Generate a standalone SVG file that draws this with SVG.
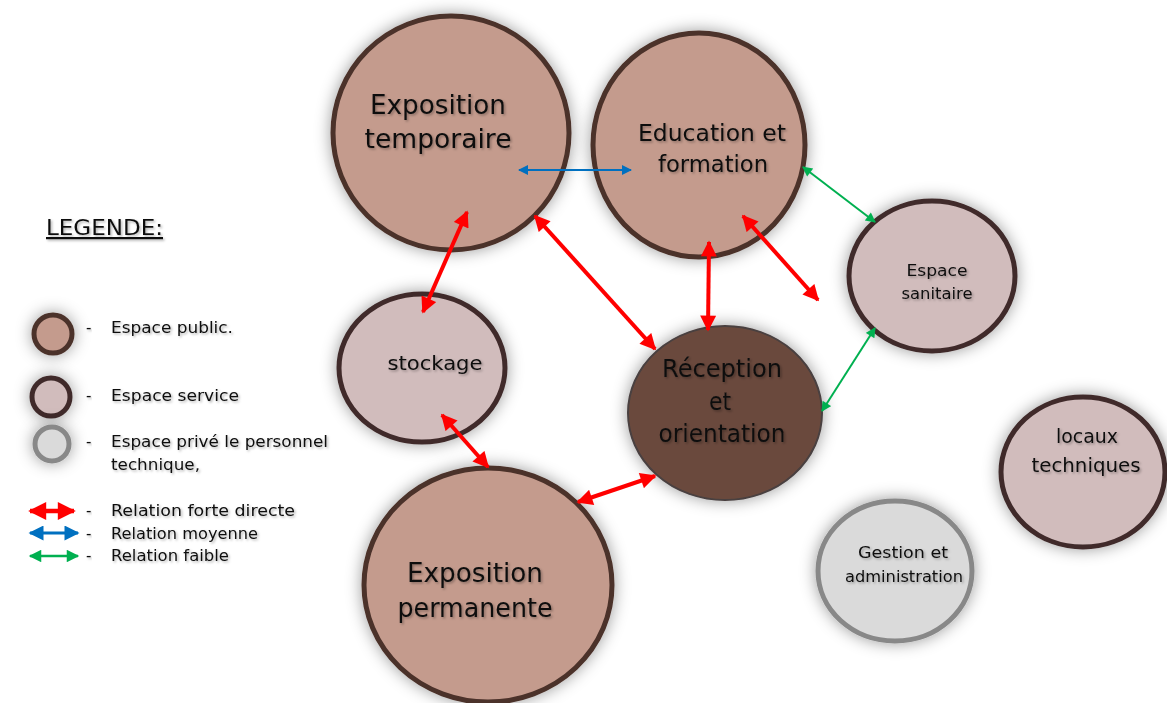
<svg xmlns="http://www.w3.org/2000/svg" width="1167" height="703" viewBox="0 0 1167 703">
<style>
.pub{fill:#c49b8d;stroke:#4b3129;stroke-width:5}
.srv{fill:#d1bcbc;stroke:#3f2a2a;stroke-width:5}
.rec{fill:#6b4a3d;stroke:#4a4040;stroke-width:2}
.prv{fill:#dadada;stroke:#888;stroke-width:5}
text{font-family:"DejaVu Sans","Open Sans",sans-serif;fill:#111}
.lbl{text-anchor:middle;filter:url(#ts)}
.leg{font-size:15px;filter:url(#ts)}
.r{stroke:#ff0000;stroke-width:4;fill:none;marker-start:url(#mr);marker-end:url(#mr)}
.b{stroke:#0070c0;stroke-width:2;fill:none;marker-start:url(#mb);marker-end:url(#mb)}
.g{stroke:#00b050;stroke-width:2;fill:none;marker-start:url(#mg);marker-end:url(#mg)}
</style>
<defs>
<filter id="sh" x="-60%" y="-60%" width="220%" height="220%">
<feDropShadow dx="0" dy="0" stdDeviation="8" flood-color="#000" flood-opacity="0.4"/>
</filter>
<filter id="ts" x="-10%" y="-30%" width="120%" height="160%">
<feDropShadow dx="1.5" dy="1.5" stdDeviation="1" flood-color="#000" flood-opacity="0.3"/>
</filter>
<marker id="mr" viewBox="0 0 10 10" refX="9" refY="5" markerWidth="4.3" markerHeight="4" orient="auto-start-reverse" markerUnits="strokeWidth"><path d="M0,0 L10,5 L0,10 z" fill="#ff0000"/></marker>
<marker id="mb" viewBox="0 0 10 10" refX="9" refY="5" markerWidth="6" markerHeight="5" orient="auto-start-reverse" markerUnits="strokeWidth"><path d="M0,0 L10,5 L0,10 z" fill="#0070c0"/></marker>
<marker id="mg" viewBox="0 0 10 10" refX="9" refY="5" markerWidth="6" markerHeight="5" orient="auto-start-reverse" markerUnits="strokeWidth"><path d="M0,0 L10,5 L0,10 z" fill="#00b050"/></marker>
</defs>
<rect width="1167" height="703" fill="#fff"/>

<g id="legend">
<text x="46" y="235" textLength="117" lengthAdjust="spacingAndGlyphs" style="font-size:22px;text-decoration:underline" filter="url(#ts)">LEGENDE:</text>
<circle cx="53" cy="334" r="19" class="pub" filter="url(#sh)"/>
<circle cx="51" cy="397" r="19" class="srv" filter="url(#sh)"/>
<circle cx="52" cy="444" r="17" class="prv" filter="url(#sh)"/>
<text class="leg" x="86" y="333">-</text><text class="leg" x="111" y="333" textLength="122" lengthAdjust="spacingAndGlyphs">Espace public.</text>
<text class="leg" x="86" y="401">-</text><text class="leg" x="111" y="401" textLength="128" lengthAdjust="spacingAndGlyphs">Espace service</text>
<text class="leg" x="86" y="447">-</text><text class="leg" x="111" y="447" textLength="217" lengthAdjust="spacingAndGlyphs">Espace privé le personnel</text>
<text class="leg" x="111" y="470" textLength="89" lengthAdjust="spacingAndGlyphs">technique,</text>
<line class="r" x1="30" y1="511" x2="74" y2="511" style="stroke-width:4.5"/>
<line class="b" x1="30" y1="533" x2="78" y2="533" style="stroke-width:3"/>
<line class="g" x1="30" y1="556" x2="78" y2="556" style="stroke-width:2.5"/>
<text class="leg" x="86" y="516">-</text><text class="leg" x="111" y="516" textLength="184" lengthAdjust="spacingAndGlyphs">Relation forte directe</text>
<text class="leg" x="86" y="539">-</text><text class="leg" x="111" y="539" textLength="147" lengthAdjust="spacingAndGlyphs">Relation moyenne</text>
<text class="leg" x="86" y="561">-</text><text class="leg" x="111" y="561" textLength="118" lengthAdjust="spacingAndGlyphs">Relation faible</text>
</g>

<g id="expo-temp">
<ellipse cx="451" cy="133" rx="118" ry="117" class="pub" filter="url(#sh)"/>
<text class="lbl" style="font-size:26px"><tspan x="438" y="114" textLength="136" lengthAdjust="spacingAndGlyphs">Exposition</tspan><tspan x="438" y="148" textLength="147" lengthAdjust="spacingAndGlyphs">temporaire</tspan></text>
</g>
<g id="education">
<ellipse cx="699" cy="145" rx="106" ry="112" class="pub" filter="url(#sh)"/>
<text class="lbl" style="font-size:23px"><tspan x="712" y="141" textLength="148" lengthAdjust="spacingAndGlyphs">Education et</tspan><tspan x="713" y="172" textLength="110" lengthAdjust="spacingAndGlyphs">formation</tspan></text>
</g>
<g id="sanitaire">
<ellipse cx="932" cy="276" rx="83" ry="75" class="srv" filter="url(#sh)"/>
<text class="lbl" style="font-size:15px"><tspan x="937" y="276" textLength="61" lengthAdjust="spacingAndGlyphs">Espace</tspan><tspan x="937" y="299" textLength="71" lengthAdjust="spacingAndGlyphs">sanitaire</tspan></text>
</g>
<g id="stockage">
<ellipse cx="422" cy="368" rx="83" ry="74" class="srv" filter="url(#sh)"/>
<text class="lbl" style="font-size:19px" x="435" y="370" textLength="95" lengthAdjust="spacingAndGlyphs">stockage</text>
</g>
<g id="reception">
<ellipse cx="725" cy="413" rx="97" ry="87" class="rec" filter="url(#sh)"/>
<text class="lbl" style="font-size:24px"><tspan x="722" y="377" textLength="120" lengthAdjust="spacingAndGlyphs">Réception</tspan><tspan x="720" y="410" textLength="22" lengthAdjust="spacingAndGlyphs">et</tspan><tspan x="722" y="442" textLength="127" lengthAdjust="spacingAndGlyphs">orientation</tspan></text>
</g>
<g id="expo-perm">
<ellipse cx="488" cy="585" rx="124" ry="117" class="pub" filter="url(#sh)"/>
<text class="lbl" style="font-size:26px"><tspan x="475" y="582" textLength="136" lengthAdjust="spacingAndGlyphs">Exposition</tspan><tspan x="475" y="617" textLength="155" lengthAdjust="spacingAndGlyphs">permanente</tspan></text>
</g>
<g id="locaux">
<ellipse cx="1083" cy="472" rx="82" ry="75" class="srv" filter="url(#sh)"/>
<text class="lbl" style="font-size:19px"><tspan x="1087" y="443" textLength="62" lengthAdjust="spacingAndGlyphs">locaux</tspan><tspan x="1086" y="472" textLength="109" lengthAdjust="spacingAndGlyphs">techniques</tspan></text>
</g>
<g id="gestion">
<ellipse cx="895" cy="571" rx="77" ry="70" class="prv" filter="url(#sh)"/>
<text class="lbl" style="font-size:15px"><tspan x="903" y="558" textLength="90" lengthAdjust="spacingAndGlyphs">Gestion et</tspan><tspan x="904" y="582" textLength="118" lengthAdjust="spacingAndGlyphs">administration</tspan></text>
</g>

<g id="connectors">
<line class="b" x1="519" y1="170" x2="631" y2="170"/>
<line class="r" x1="467" y1="212" x2="423" y2="312"/>
<line class="r" x1="535" y1="216" x2="655" y2="349"/>
<line class="r" x1="709" y1="242" x2="708" y2="330"/>
<line class="r" x1="743" y1="216" x2="818" y2="300"/>
<line class="r" x1="442" y1="415" x2="488" y2="467"/>
<line class="r" x1="578" y1="502" x2="655" y2="476"/>
<line class="g" x1="803" y1="167" x2="875" y2="222"/>
<line class="g" x1="875" y1="328" x2="822" y2="411"/>
</g>
</svg>
